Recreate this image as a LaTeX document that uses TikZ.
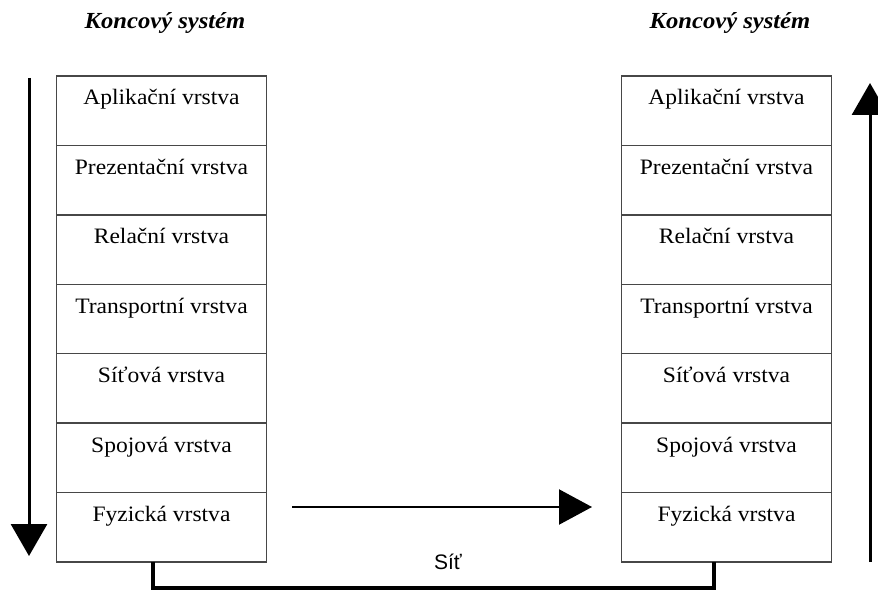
\documentclass[tikz,border=0pt]{standalone}
\usepackage{fontspec}
\setmainfont{Liberation Serif}[FakeStretch=1.07]
\newfontfamily\netfont{Liberation Sans}
\usetikzlibrary{arrows.meta}
\begin{document}
\begin{tikzpicture}[x=1pt,y=-1pt,
  layerbox/.style={draw=black!72, line width=1.4pt, minimum width=210pt,
    minimum height=69.43pt, inner sep=0pt, outer sep=0pt},
  layertext/.style={font=\fontsize{22}{24}\selectfont, anchor=base, inner sep=0pt},
  systitle/.style={font=\fontsize{23}{25}\selectfont\bfseries\itshape},
  flow/.style={line width=3pt, -{Triangle[length=32pt,width=36pt]}},
  hflow/.style={line width=2.2pt, -{Triangle[length=33pt,width=35pt]}},
  bus/.style={line width=3.5pt, line join=miter}
]
\useasboundingbox (0,0) rectangle (878,591);

% titles above both stacks
\node[systitle] (tl) at (165,23) {Koncový systém};
\node[systitle] (tr) at (730,23) {Koncový systém};

% the two seven-layer stacks
\foreach \txt [count=\i] in {Aplikační vrstva, Prezentační vrstva, Relační vrstva,
    Transportní vrstva, Síťová vrstva, Spojová vrstva, Fyzická vrstva} {
  \node[layerbox] (L\i) at (161.5, {76+69.43*(\i-0.5)}) {};
  \node[layertext] (Lt\i) at (161.5, {76+69.43*(\i-1)+29}) {\txt};
  \node[layerbox] (R\i) at (726.5, {76+69.43*(\i-0.5)}) {};
  \node[layertext] (Rt\i) at (726.5, {76+69.43*(\i-1)+29}) {\txt};
}

% data flow: down the sender, across, up the receiver
\coordinate (dTop) at (29,78);
\coordinate (dEnd) at (29,556);
\draw[flow] (dTop) -- (dEnd);

\coordinate (hStart) at (292,507);
\coordinate (hEnd) at (592,507);
\draw[hflow] (hStart) -- (hEnd);

\coordinate (uStart) at (870,562);
\coordinate (uEnd) at (870,83);
\draw[flow] (uStart) -- (uEnd);

% physical network link
\coordinate (busL) at (153,588);
\coordinate (busR) at (714,588);
\draw[bus] ([xshift=-8.5pt]L7.south) -- (busL) -- (busR) -- ([xshift=-12.5pt]R7.south);
\node[font=\netfont\fontsize{21}{23}\selectfont] (net) at (448,562) {Síť};
\end{tikzpicture}
\end{document}
